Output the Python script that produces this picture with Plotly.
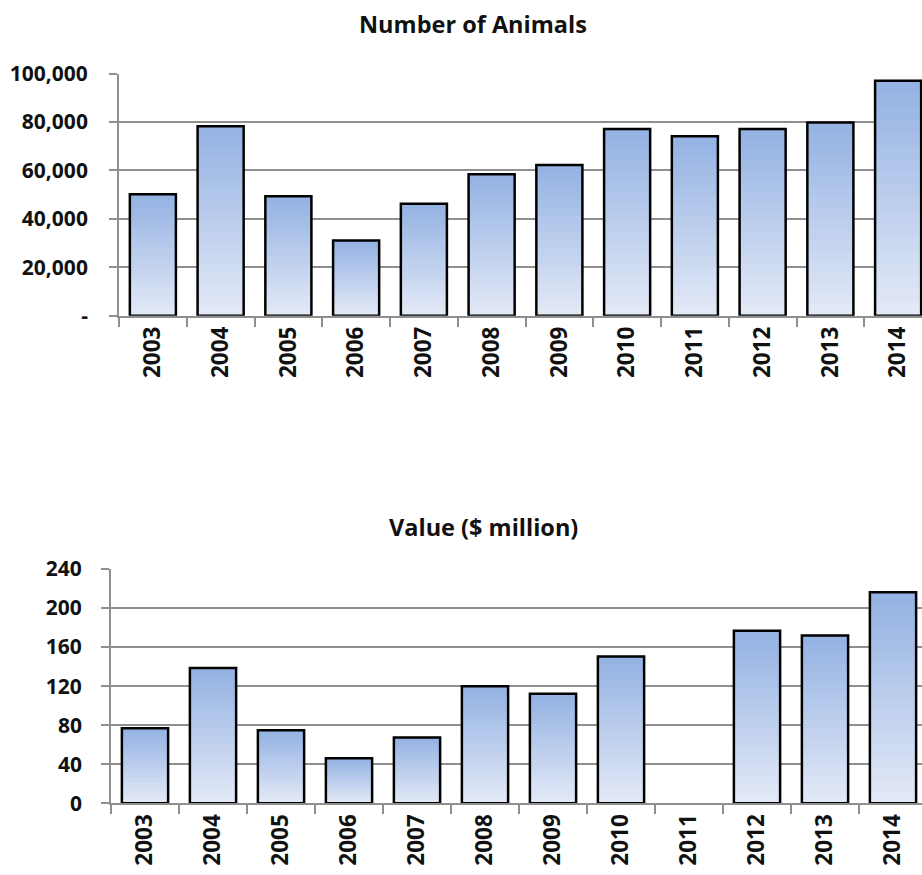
import plotly.graph_objects as go

# ---- data ----
years = ["2003", "2004", "2005", "2006", "2007", "2008", "2009", "2010", "2011", "2012", "2013", "2014"]
animals = [50100, 78200, 49300, 31000, 46200, 58400, 62200, 77100, 74100, 77100, 79800, 97000]
value_musd = [77, 138.6, 74.9, 46.2, 67.3, 120, 112.1, 150.4, None, 176.8, 172, 216.2]

animal_ticks = [0, 20000, 40000, 60000, 80000, 100000]
animal_ticktext = ["-", "20,000", "40,000", "60,000", "80,000", "100,000"]
value_ticks = [0, 40, 80, 120, 160, 200, 240]

# ---- style ----
FONT = "Open Sans"
TOP_RGB = (149, 179, 227)
BOT_RGB = (225, 232, 246)
GRID = "#8f8f8f"
N_SHADE = 18
W, H = 922, 875


def lerp(a, b, t):
    return "rgb(%d,%d,%d)" % tuple(round(a[i] + (b[i] - a[i]) * t) for i in range(3))


def add_bars(fig, x, y, xa, ya):
    # shading layers (vertical gradient per bar, dark top -> light bottom)
    fig.add_trace(go.Bar(x=x, y=y, xaxis=xa, yaxis=ya, marker=dict(color=lerp(TOP_RGB, BOT_RGB, 0), line=dict(width=0)),
                         hoverinfo="skip", showlegend=False))
    for k in range(1, N_SHADE):
        f = 1 - k / N_SHADE
        yy = [None if v is None else v * f for v in y]
        fig.add_trace(go.Bar(x=x, y=yy, xaxis=xa, yaxis=ya,
                             marker=dict(color=lerp(TOP_RGB, BOT_RGB, k / (N_SHADE - 1)), line=dict(width=0)),
                             hoverinfo="skip", showlegend=False))
    # outline
    fig.add_trace(go.Bar(x=x, y=y, xaxis=xa, yaxis=ya,
                         marker=dict(color="rgba(0,0,0,0)", line=dict(color="#000000", width=2.5)),
                         showlegend=False))


fig = go.Figure()
add_bars(fig, years, animals, "x", "y")
add_bars(fig, years, value_musd, "x2", "y2")

def px_x(p):
    return p / W

def px_y(p):
    return (H - p) / H

tickfont_x = dict(family=FONT, size=22.5, color="#111111", weight="bold")
tickfont_y = dict(family=FONT, size=21, color="#111111", weight="bold")

common_x = dict(type="category", tickson="boundaries", ticks="outside", ticklen=9, tickwidth=1.6, tickcolor=GRID,
                showline=True, linecolor=GRID, linewidth=1.8, showgrid=False, tickangle=-90, automargin=False,
                tickfont=tickfont_x, zeroline=False, fixedrange=True)
common_y = dict(ticks="outside", ticklen=8, tickwidth=1.6, tickcolor=GRID, showline=True, linecolor=GRID,
                linewidth=1.8, showgrid=True, gridcolor=GRID, gridwidth=1.6, zeroline=False, automargin=False,
                tickfont=tickfont_y, fixedrange=True)

fig.update_layout(
    width=W, height=H,
    margin=dict(l=0, r=0, t=0, b=0, pad=0),
    paper_bgcolor="white", plot_bgcolor="white",
    barmode="overlay", bargap=0.32,
    showlegend=False,
    xaxis=dict(**common_x, domain=[px_x(119), 1.0], range=[-0.5, (922 - 119) / 67.75 - 0.5], anchor="y"),
    yaxis=dict(**common_y, domain=[px_y(315.7), px_y(73.5)], range=[0, 100000], tickvals=animal_ticks,
               ticktext=animal_ticktext, ticklabelstandoff=17, anchor="x"),
    xaxis2=dict(**common_x, domain=[px_x(111), 1.0], range=[-0.5, (922 - 111) / 68.0 - 0.5], anchor="y2"),
    yaxis2=dict(**common_y, domain=[px_y(803.3), px_y(569)], range=[0, 240], tickvals=value_ticks,
                ticklabelstandoff=15, anchor="x2"),
    annotations=[
        dict(text="Number of Animals", x=px_x(473), y=px_y(24), xref="paper", yref="paper", showarrow=False,
             xanchor="center", yanchor="middle", font=dict(family=FONT, size=23.5, color="#111111", weight="bold")),
        dict(text="Value ($ million)", x=px_x(483), y=px_y(527), xref="paper", yref="paper", showarrow=False,
             xanchor="center", yanchor="middle", font=dict(family=FONT, size=23.5, color="#111111", weight="bold")),
    ],
)

fig.write_html("out.html")
